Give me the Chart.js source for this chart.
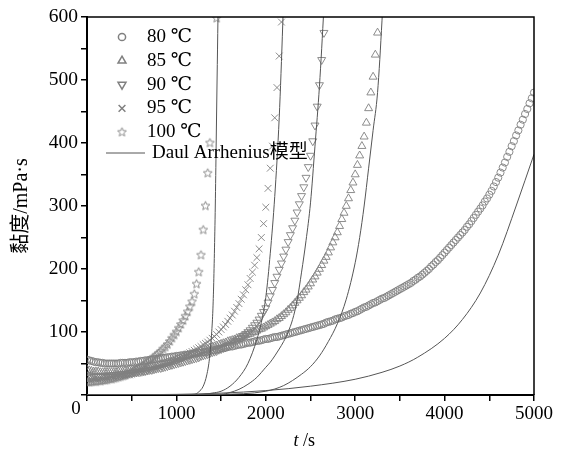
<!DOCTYPE html>
<html lang="zh">
<head>
<meta charset="UTF-8">
<title>黏度-时间曲线</title>
<script src="https://cdn.jsdelivr.net/npm/chart.js@4.4.0/dist/chart.umd.min.js"></script>
<style>
    html, body { margin: 0; padding: 0; background: #fff; }
    #wrap { width: 569px; height: 452px; position: relative; }
</style>
</head>
<body>
<div id="wrap"><canvas id="graph1"></canvas></div>
<script>
// measured viscosity (mPa·s), one reading every 25 s from t = 0
var dt = 25;
var v80 = [56,55,54,53,52,52,51,51,50,50,50,50,50,50,50,51,51,51,51,52,52,52,53,53,54,54,55,55,56,56,57,57,58,58,59,59,60,60,61,61,
    62,62,63,63,64,64,65,65,66,66,67,67,68,68,69,70,71,71,72,73,74,74,75,76,77,77,78,79,80,80,81,82,83,83,84,85,86,86,87,88,
    89,89,90,91,92,92,93,94,95,96,97,98,99,100,101,102,103,104,105,106,107,108,109,110,111,112,113,115,116,117,118,120,121,122,123,125,126,127,129,130,
    132,133,135,137,139,140,142,144,146,147,149,151,153,154,156,158,160,162,164,166,168,170,172,174,176,178,181,183,186,188,191,194,197,200,204,207,211,214,218,222,
    226,230,234,238,242,246,250,254,258,262,267,271,276,281,286,291,296,301,307,312,318,324,331,338,345,353,361,369,378,386,395,403,412,420,429,437,446,454,463,471,
    480];
var v85 = [40,39,38,37,37,37,36,36,36,36,36,36,36,36,37,37,37,38,38,39,39,39,40,40,41,42,42,43,44,45,45,46,47,48,49,50,51,52,53,54,
    56,57,58,60,61,62,63,65,66,67,68,70,71,72,73,75,76,77,78,80,81,82,83,85,86,87,88,90,91,92,93,95,96,97,99,100,102,104,105,107,
    109,111,113,115,117,120,122,125,128,131,135,138,142,146,150,154,158,163,167,172,177,183,188,194,200,206,213,219,226,234,242,250,258,268,279,289,300,312,325,337,
    350,365,380,395,410,432,455,480,505,540,575];
var v90 = [28,28,28,29,29,29,30,30,30,31,31,31,32,32,33,33,33,34,34,35,35,36,36,37,37,38,38,39,40,40,41,42,43,43,44,45,46,47,48,49,
    50,51,52,53,54,55,56,57,58,59,60,62,63,64,65,67,68,69,70,72,73,75,76,78,80,82,84,86,89,91,94,97,100,103,107,111,115,120,126,132,
    138,147,157,167,178,188,199,209,220,231,243,254,265,277,290,303,316,330,345,362,380,403,428,458,492,532,575];
var v95 = [24,24,24,25,25,25,26,26,26,27,27,28,28,29,29,30,30,31,32,32,33,34,34,35,36,37,38,39,40,41,42,43,45,46,47,48,49,50,52,54,
    56,58,59,61,63,65,67,69,71,73,75,77,80,82,84,87,90,93,96,100,104,108,112,117,122,127,133,139,145,152,159,167,175,185,195,206,218,232,250,272,
    298,328,360,395,440,488,538,592];
var v100 = [20,20,21,21,21,22,22,23,23,24,25,25,26,27,28,29,30,31,33,34,36,38,40,42,44,46,49,51,54,57,60,63,66,69,73,76,80,85,90,95,
    100,106,112,118,125,132,140,148,160,176,195,222,262,300,352,400,null,null,598];

// Dual Arrhenius model curves: time (s) and viscosity
var tm80 = [0, 1000, 1500, 2000, 2500, 3000, 3300, 3500, 3700, 4000, 4200, 4400, 4600, 4800, 5000];
var m80 = [0, 1, 3, 7, 14, 25, 36, 46, 60, 90, 120, 162, 222, 300, 382];
var tm85 = [0, 1000, 1500, 2000, 2200, 2400, 2500, 2600, 2700, 2800, 2900, 3000, 3050, 3100, 3150, 3200, 3250, 3300, 3330];
var m85 = [0, 0.3, 1, 6, 15, 33, 45, 62, 85, 113, 152, 210, 250, 300, 360, 420, 480, 595, 680];
var tm90 = [0, 1000, 1500, 1600, 1700, 1800, 1900, 2000, 2050, 2100, 2150, 2200, 2250, 2300, 2350, 2400, 2450, 2500, 2550, 2600, 2650, 2680];
var m90 = [0, 0.3, 1, 4, 9, 17, 28, 44, 52, 62, 73, 85, 100, 120, 150, 195, 245, 305, 395, 490, 615, 700];
var tm95 = [0, 1000, 1300, 1400, 1500, 1600, 1700, 1800, 1900, 1950, 2000, 2050, 2100, 2150, 2190, 2210];
var m95 = [0, 0.2, 1, 3, 6, 14, 28, 50, 88, 115, 155, 225, 315, 440, 590, 680];
var tm100 = [0, 1000, 1200, 1250, 1300, 1340, 1370, 1390, 1405, 1415, 1425, 1435, 1445, 1455, 1465, 1472];
var m100 = [0, 0.2, 1, 5, 14, 32, 58, 90, 125, 165, 225, 300, 400, 500, 600, 680];

var seriesLabels = ["80 ℃", "85 ℃", "90 ℃", "95 ℃", "100 ℃"];
var modelLabel = "Daul Arrhenius模型";
var xLabels = [1000, 2000, 3000, 4000, 5000];
var yLabels = [100, 200, 300, 400, 500, 600];

var serif = '"Liberation Serif", "DejaVu Serif", "Noto Sans CJK SC", serif';
var markColor = "#808080";
var lineColor = "#555555";

function starImage(r) {
    var s = Math.ceil(r * 2 + 3);
    var c = document.createElement("canvas");
    c.width = s; c.height = s;
    var g = c.getContext("2d");
    g.strokeStyle = markColor;
    g.lineWidth = 0.9;
    g.beginPath();
    for (var i = 0; i < 10; i++) {
        var rr = i % 2 == 0 ? r : r * 0.45;
        var a = -Math.PI / 2 + i * Math.PI / 5;
        var px = s / 2 + rr * Math.cos(a), py = s / 2 + rr * Math.sin(a);
        if (i == 0) g.moveTo(px, py); else g.lineTo(px, py);
    }
    g.closePath();
    g.stroke();
    return c;
}

function sampled(vals) {
    return vals.map(function (v, i) { return { x: i * dt, y: v }; });
}
function curve(ts, vs) {
    return ts.map(function (t, i) { return { x: t, y: vs[i] }; });
}

var marks = [
    { style: "circle", radius: 3.6, rotation: 0 },
    { style: "triangle", radius: 4.6, rotation: 0 },
    { style: "triangle", radius: 4.6, rotation: 180 },
    { style: "crossRot", radius: 4.8, rotation: 0 },
    { style: starImage(4.6), radius: 4.6, rotation: 0 }
];
var measured = [v80, v85, v90, v95, v100];
var models = [[tm80, m80], [tm85, m85], [tm90, m90], [tm95, m95], [tm100, m100]];

var datasets = [];
// model lines first so they sit on top of the markers
models.forEach(function (m) {
    datasets.push({
        data: curve(m[0], m[1]),
        showLine: true,
        borderColor: lineColor,
        borderWidth: 1,
        pointRadius: 0,
        pointHoverRadius: 0,
        cubicInterpolationMode: "monotone",
        fill: false
    });
});
measured.forEach(function (vals, k) {
    datasets.push({
        label: seriesLabels[k],
        data: sampled(vals),
        showLine: false,
        pointStyle: marks[k].style,
        pointRadius: marks[k].radius,
        pointHoverRadius: marks[k].radius,
        pointRotation: marks[k].rotation,
        pointBorderColor: markColor,
        pointBackgroundColor: "rgba(0,0,0,0)",
        pointBorderWidth: 0.9
    });
});

var decor = {
    id: "decor",
    afterDraw: function (chart) {
        var ctx = chart.ctx, a = chart.chartArea;
        var xs = chart.scales.x, ys = chart.scales.y;
        ctx.save();

        // top and right edges of the frame
        ctx.strokeStyle = "#000";
        ctx.lineWidth = 1.5;
        ctx.beginPath();
        ctx.moveTo(a.left, a.top);
        ctx.lineTo(a.right, a.top);
        ctx.lineTo(a.right, a.bottom);
        ctx.stroke();

        // shared "0" at the origin
        ctx.fillStyle = "#000";
        ctx.font = "19px " + serif;
        ctx.textAlign = "center";
        ctx.textBaseline = "middle";
        ctx.fillText("0", xs.getPixelForValue(0) - 11, ys.getPixelForValue(0) + 14);

        // x axis title: italic t
        ctx.font = "italic 18px " + serif;
        ctx.textAlign = "left";
        var tx = (a.left + a.right) / 2 - 17, ty = a.bottom + 46;
        ctx.fillText("t", tx, ty);
        var tw = ctx.measureText("t").width;
        ctx.font = "18px " + serif;
        ctx.fillText(" /s", tx + tw, ty);

        // legend
        var lx = a.left + 35, ly = a.top + 20, step = 23.8;
        marks.forEach(function (m, k) {
            var y = ly + k * step;
            ctx.strokeStyle = markColor;
            ctx.fillStyle = "rgba(0,0,0,0)";
            Chart.helpers.drawPoint(ctx, {
                pointStyle: m.style, radius: m.radius, rotation: m.rotation, borderWidth: 0.9
            }, lx, y);
            ctx.fillStyle = "#000";
            ctx.font = "19px " + serif;
            ctx.fillText(seriesLabels[k], a.left + 60, y);
        });
        var my = ly + 5 * step - 3;
        ctx.strokeStyle = lineColor;
        ctx.lineWidth = 1;
        ctx.beginPath();
        ctx.moveTo(a.left + 19, my);
        ctx.lineTo(a.left + 58, my);
        ctx.stroke();
        ctx.fillStyle = "#000";
        ctx.fillText(modelLabel, a.left + 65, my);

        ctx.restore();
    }
};

Chart.defaults.font.family = serif;
Chart.defaults.color = "#000";

new Chart("graph1", {
    type: "scatter",
    data: { datasets: datasets },
    options: {
        responsive: true,
        maintainAspectRatio: false,
        animation: false,
        layout: { padding: { top: 17, right: 35, left: 0, bottom: 0 } },
        plugins: { legend: { display: false }, tooltip: { enabled: false } },
        scales: {
            x: {
                type: "linear",
                min: 0, max: 5000,
                border: { display: true, color: "#000", width: 2 },
                grid: { drawOnChartArea: false, drawTicks: true, tickLength: 6, color: "#000", lineWidth: 1.5 },
                ticks: {
                    stepSize: 500, autoSkip: false, maxRotation: 0, padding: 2,
                    font: { size: 19 },
                    callback: function (v) { return xLabels.indexOf(v) >= 0 ? String(v) : ""; }
                },
                afterFit: function (s) { s.height = 57; }
            },
            y: {
                type: "linear",
                min: 0, max: 600,
                border: { display: true, color: "#000", width: 2 },
                grid: { drawOnChartArea: false, drawTicks: true, tickLength: 6, color: "#000", lineWidth: 1.5 },
                ticks: {
                    stepSize: 50, autoSkip: false, padding: 3,
                    font: { size: 19.5 },
                    callback: function (v) { return yLabels.indexOf(v) >= 0 ? String(v) : ""; }
                },
                title: {
                    display: true,
                    text: "黏度/mPa·s",
                    font: { size: 20 },
                    padding: { top: 10, bottom: 0 }
                },
                afterFit: function (s) { s.width = 87; }
            }
        }
    },
    plugins: [decor]
});
</script>
</body>
</html>
